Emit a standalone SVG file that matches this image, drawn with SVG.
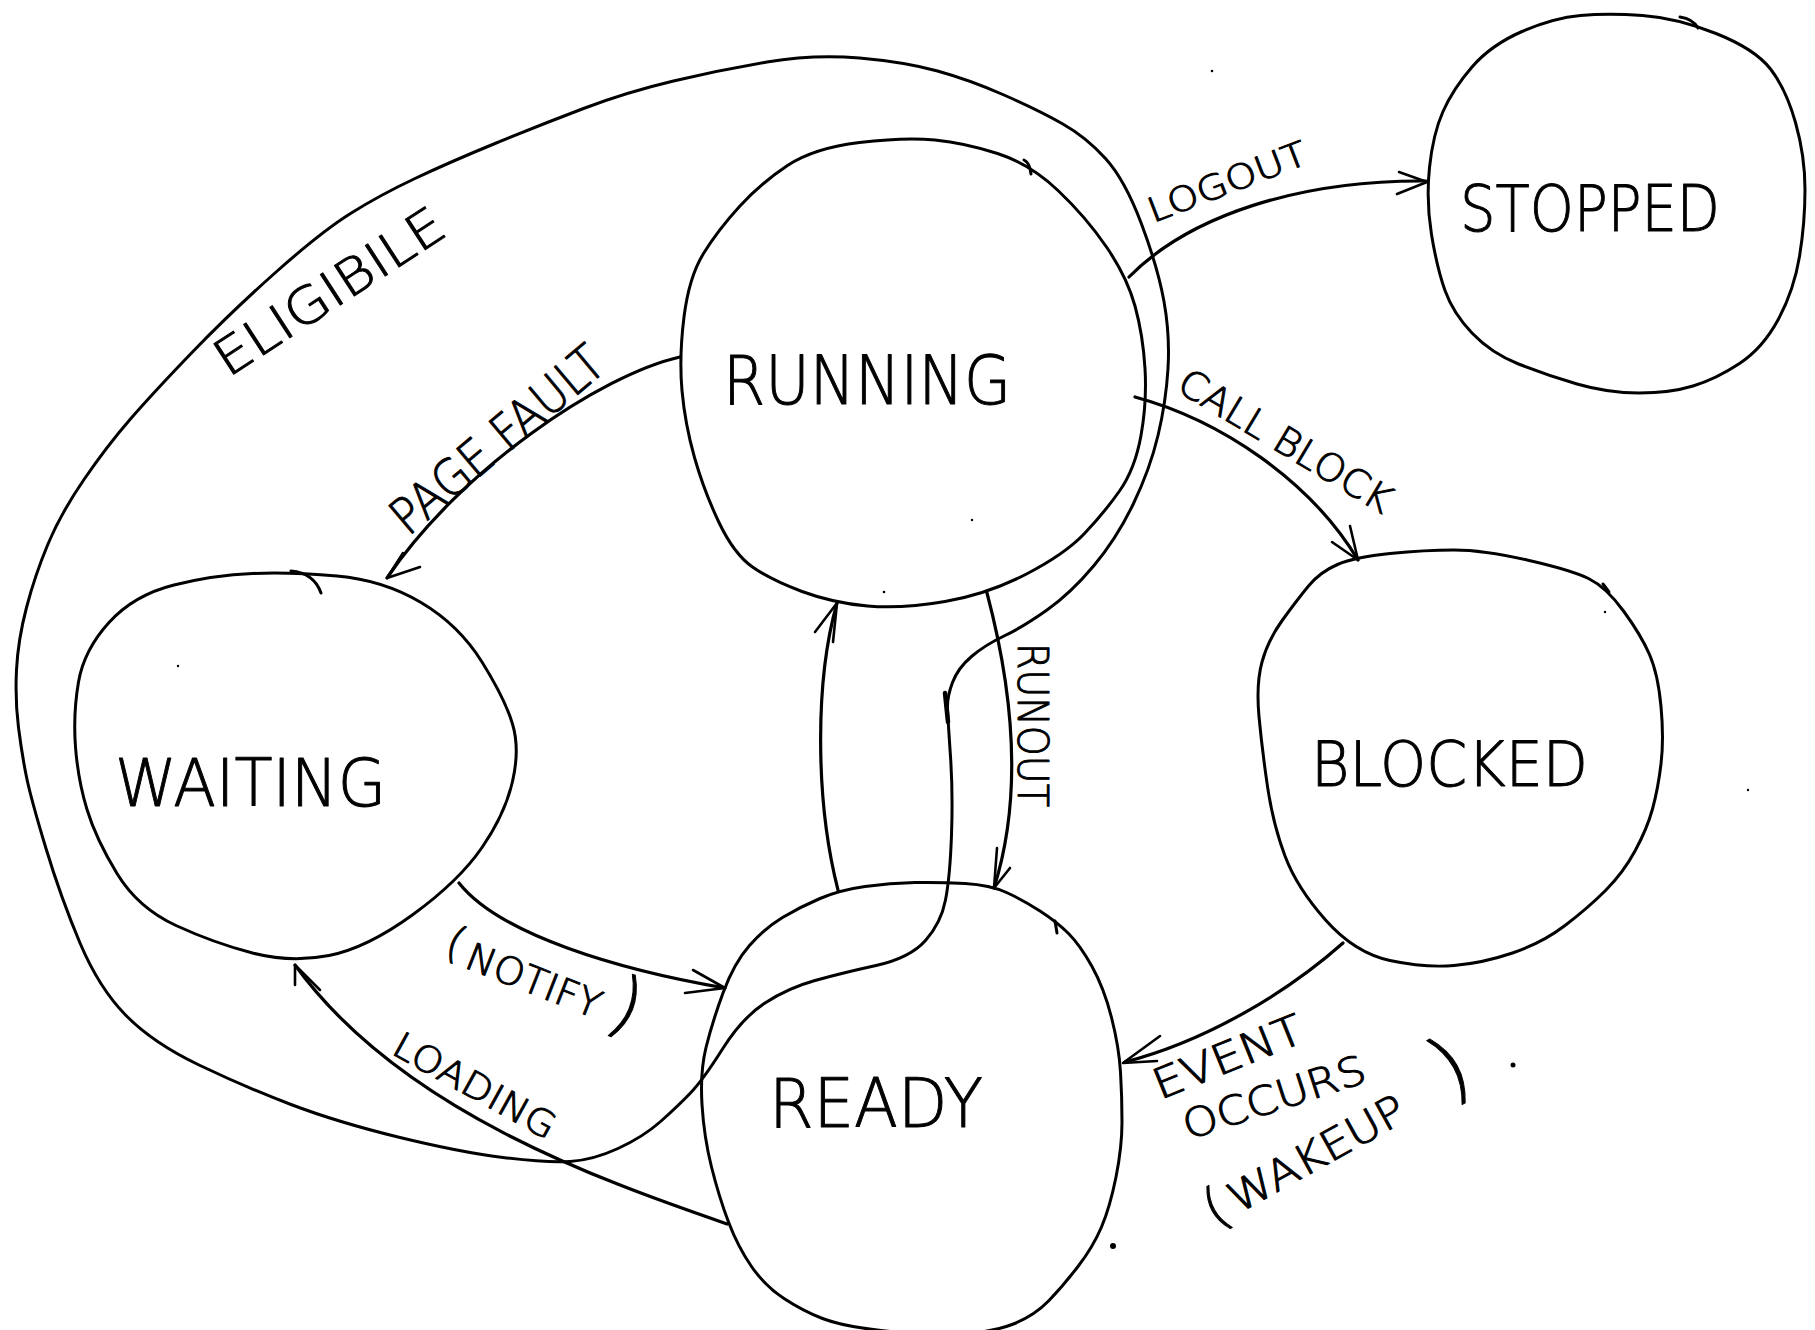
<svg xmlns="http://www.w3.org/2000/svg" width="1815" height="1330" viewBox="0 0 1815 1330">
<style>
.s{fill:none;stroke:#000;stroke-width:3;stroke-linecap:round;stroke-linejoin:round}
.c{fill:none;stroke:#000;stroke-width:3.2;stroke-linecap:round;stroke-linejoin:round}
.ah{fill:none;stroke:#000;stroke-width:2.6;stroke-linecap:round;stroke-linejoin:round}
.t{font-family:"DejaVu Sans","Liberation Sans",sans-serif;font-weight:200;fill:#000;stroke:#000;stroke-width:1;stroke-linejoin:round}
.dot{fill:#000}
</style>
<rect width="1815" height="1330" fill="#fff"/>

<g id="eligible">
<path class="s" d="M 947.5 708.5 Q 947 697 952.5 682.5 Q 958 668 971.5 656.5 Q 985 645 1004 636 Q 1023 627 1047 610 Q 1071 593 1094 565.5 Q 1117 538 1133.5 503.5 Q 1150 469 1158 435.5 Q 1166 402 1168 368.5 Q 1170 335 1164 301.5 Q 1158 268 1141.5 224 Q 1125 180 1105.5 158.5 Q 1086 137 1062 123.5 Q 1038 110 1004 95 Q 970 80 937.5 71 Q 905 62 859.5 58 Q 814 54 767 62 Q 720 70 673.5 81 Q 627 92 583.5 108.5 Q 540 125 495 143.5 Q 450 162 415 178.5 Q 380 195 350.5 213.5 Q 321 232 275.5 272.5 Q 230 313 191.5 353 Q 153 393 130 419.5 Q 107 446 84 479.5 Q 61 513 48 544 Q 35 575 26.5 607.5 Q 18 640 16.5 670 Q 15 700 18.5 727.5 Q 22 755 26.5 777 Q 31 799 46 848.5 Q 61 898 80 943 Q 99 988 126 1015.5 Q 153 1043 199 1065 Q 245 1087 291 1104.5 Q 337 1122 398 1137 Q 459 1152 503 1157.5 Q 547 1163 570 1161.5 Q 593 1160 618 1148.5 Q 643 1137 660 1122 Q 677 1107 690 1093.5 Q 703 1080 722.5 1049 Q 742 1018 765 1003 Q 788 988 815 980.5 Q 842 973 876 965.5 Q 910 958 925.5 940.5 Q 941 923 945.5 900 Q 950 877 951.5 835 Q 953 793 950.5 756.5 Q 948 720 947.5 708.5 Z"/>
<path d="M 945 693 L 948 722" fill="none" stroke="#000" stroke-width="4.5" stroke-linecap="round"/>
<text class="t" transform="translate(228,378) rotate(-33)" font-size="50" textLength="264" lengthAdjust="spacingAndGlyphs">ELIGIBILE</text>
</g>

<g id="running">
<path class="s" d="M 859.5 142.5 Q 905 137 935 140 Q 965 143 997.5 153.5 Q 1030 164 1058 190.5 Q 1086 217 1106.5 247 Q 1127 277 1135 306 Q 1143 335 1145 368.5 Q 1147 402 1141 435.5 Q 1135 469 1119.5 491 Q 1104 513 1084.5 533.5 Q 1065 554 1026.5 574 Q 988 594 945 601.5 Q 902 609 867.5 606 Q 833 603 802 591.5 Q 771 580 752.5 567 Q 734 554 719 522.5 Q 704 491 694.5 457.5 Q 685 424 682 390.5 Q 679 357 684 317 Q 689 277 703.5 253.5 Q 718 230 739.5 206.5 Q 761 183 787.5 165.5 Q 814 148 859.5 142.5 Z"/>
<path class="s" d="M 1024 160 Q 1030 163 1031 174"/>
<text class="t" x="723" y="404" font-size="68" textLength="288" lengthAdjust="spacingAndGlyphs">RUNNING</text>
</g>

<g id="stopped">
<path class="s" d="M 1580.5 15.5 Q 1608 13 1642.5 15.5 Q 1677 18 1716 33.5 Q 1755 49 1770.5 69 Q 1786 89 1795.5 122.5 Q 1805 156 1805 189.5 Q 1805 223 1799.5 256.5 Q 1794 290 1778.5 319 Q 1763 348 1739.5 363.5 Q 1716 379 1693 386 Q 1670 393 1639 393 Q 1608 393 1577 384 Q 1546 375 1518.5 364 Q 1491 353 1472 333 Q 1453 313 1445 290.5 Q 1437 268 1431.5 234.5 Q 1426 201 1429.5 167.5 Q 1433 134 1443 111.5 Q 1453 89 1472 67 Q 1491 45 1522 31.5 Q 1553 18 1580.5 15.5 Z"/>
<path class="s" d="M 1680 17 Q 1693 19 1698 28"/>
<text class="t" x="1460" y="231" font-size="64" textLength="260" lengthAdjust="spacingAndGlyphs">STOPPED</text>
</g>

<g id="waiting">
<path class="s" d="M 252.5 573.5 Q 291 572 337 576 Q 383 580 421 602.5 Q 459 625 482 662 Q 505 699 512.5 724 Q 520 749 512.5 781.5 Q 505 814 482 847.5 Q 459 881 413 914.5 Q 367 948 329 955.5 Q 291 963 252.5 953 Q 214 943 176 925.5 Q 138 908 117 873.5 Q 96 839 87 809.5 Q 78 780 75.5 747 Q 73 714 78.5 682 Q 84 650 109 622.5 Q 134 595 174 585 Q 214 575 252.5 573.5 Z"/>
<path class="s" d="M 291 571 Q 314 573 321 593"/>
<text class="t" x="115" y="806" font-size="66" textLength="271" lengthAdjust="spacingAndGlyphs">WAITING</text>
</g>

<g id="blocked">
<path class="s" d="M 1337.5 564.5 Q 1355 557 1390 553.5 Q 1425 550 1454 550 Q 1483 550 1527 560 Q 1571 570 1588.5 578.5 Q 1606 587 1623.5 611 Q 1641 635 1649.5 654.5 Q 1658 674 1661 706.5 Q 1664 739 1661 764 Q 1658 789 1652.5 809 Q 1647 829 1635 851 Q 1623 873 1605.5 890.5 Q 1588 908 1565 925.5 Q 1542 943 1512.5 953 Q 1483 963 1454 965.5 Q 1425 968 1390 960.5 Q 1355 953 1326 920.5 Q 1297 888 1285 856 Q 1273 824 1267.5 786.5 Q 1262 749 1259 716.5 Q 1256 684 1262 662 Q 1268 640 1282.5 620 Q 1297 600 1308.5 586 Q 1320 572 1337.5 564.5 Z"/>
<path class="s" d="M 1603 584 L 1609 592"/>
<text class="t" x="1311" y="786" font-size="62" textLength="277" lengthAdjust="spacingAndGlyphs">BLOCKED</text>
</g>

<g id="ready">
<path class="s" d="M 915 882.5 Q 940 882 965 883.5 Q 990 885 1006.5 892.5 Q 1023 900 1040 911 Q 1057 922 1068.5 933.5 Q 1080 945 1092 966.5 Q 1104 988 1111.5 1017.5 Q 1119 1047 1120.5 1072 Q 1122 1097 1122 1122 Q 1122 1147 1116 1177 Q 1110 1207 1101.5 1227 Q 1093 1247 1078 1266.5 Q 1063 1286 1048.5 1301 Q 1034 1316 1012 1324.5 Q 990 1333 955 1334 Q 920 1335 881 1330.5 Q 842 1326 822.5 1318.5 Q 803 1311 784 1298.5 Q 765 1286 751.5 1266.5 Q 738 1247 728.5 1222 Q 719 1197 711.5 1167 Q 704 1137 702 1104.5 Q 700 1072 706 1047.5 Q 712 1023 723 993 Q 734 963 749.5 945.5 Q 765 928 782.5 917.5 Q 800 907 820 898.5 Q 840 890 865 886.5 Q 890 883 915 882.5 Z"/>
<path class="s" d="M 1055 921 L 1057 933"/>
<text class="t" x="769" y="1127" font-size="68" textLength="214" lengthAdjust="spacingAndGlyphs">READY</text>
</g>

<g id="connectors">
<!-- LOGOUT: Running -> Stopped -->
<path class="c" d="M 1129 277 C 1190 215 1300 180 1426 181"/>
<polyline class="ah" points="1399,172 1427,182 1397,194"/>
<text class="t" transform="translate(1153,223) rotate(-21)" font-size="34" textLength="168" lengthAdjust="spacingAndGlyphs">LOGOUT</text>

<!-- CALL BLOCK: Running -> Blocked -->
<path class="c" d="M 1135 397 C 1220 420 1310 480 1358 560"/>
<polyline class="ah" points="1332,542 1358,560 1350,526"/>
<text class="t" transform="translate(1175,390) rotate(31)" font-size="38" textLength="242" lengthAdjust="spacingAndGlyphs">CALL BLOCK</text>

<!-- PAGE FAULT: Running -> Waiting -->
<path class="c" d="M 680 357 C 600 375 460 470 387 578"/>
<polyline class="ah" points="403,553 387,578 420,567"/>
<text class="t" transform="translate(408,537) rotate(-40)" font-size="50" textLength="262" lengthAdjust="spacingAndGlyphs">PAGE FAULT</text>

<!-- RUNOUT: Running -> Ready -->
<path class="c" d="M 987 593 C 1010 680 1025 790 994 888"/>
<polyline class="ah" points="997,848 994,888 1010,868"/>
<text class="t" transform="translate(1018,643) rotate(90)" font-size="42" textLength="164" lengthAdjust="spacingAndGlyphs">RUNOUT</text>

<!-- Ready -> Running -->
<path class="c" d="M 838 890 C 815 800 815 680 837 603"/>
<polyline class="ah" points="815,632 837,603 833,642"/>

<!-- NOTIFY: Waiting -> Ready -->
<path class="c" d="M 459 883 C 500 935 620 970 725 988"/>
<polyline class="ah" points="693,970 725,988 685,993"/>
<text class="t" transform="translate(463,967) rotate(21.4)"><tspan x="-24" y="-5" font-size="44">(</tspan><tspan x="0" y="0" font-size="38" textLength="142" lengthAdjust="spacingAndGlyphs">NOTIFY</tspan><tspan x="152" y="1" font-size="74">)</tspan></text>

<!-- LOADING: Ready -> Waiting -->
<path class="c" d="M 727 1224 C 600 1180 400 1110 295 965"/>
<polyline class="ah" points="295,985 295,965 320,990"/>
<text class="t" transform="translate(390,1053) rotate(29)" font-size="36" textLength="180" lengthAdjust="spacingAndGlyphs">LOADING</text>

<!-- EVENT OCCURS (WAKEUP): Blocked -> Ready -->
<path class="c" d="M 1343 943 C 1290 990 1210 1040 1125 1062"/>
<polyline class="ah" points="1160,1036 1123,1063 1157,1061"/>
<text class="t" transform="translate(1160,1100) rotate(-22)" font-size="42" textLength="158" lengthAdjust="spacingAndGlyphs">EVENT</text>
<text class="t" transform="translate(1188,1140) rotate(-18)" font-size="40" textLength="190" lengthAdjust="spacingAndGlyphs">OCCURS</text>
<text class="t" transform="translate(1238,1214) rotate(-29)"><tspan x="-27" y="2" font-size="54">(</tspan><tspan x="0" y="0" font-size="42" textLength="196" lengthAdjust="spacingAndGlyphs">WAKEUP</tspan><tspan x="240" y="2" font-size="82">)</tspan></text>
</g>

<g id="specks">
<circle class="dot" cx="1113" cy="1246" r="3"/>
<circle class="dot" cx="1513" cy="1065" r="2.5"/>
<circle class="dot" cx="1212" cy="71" r="1.3"/>
<circle class="dot" cx="884" cy="592" r="1.3"/>
<circle class="dot" cx="972" cy="520" r="1.2"/>
<circle class="dot" cx="1605" cy="612" r="1.2"/>
<circle class="dot" cx="178" cy="666" r="1.2"/>
<circle class="dot" cx="1748" cy="790" r="1.2"/>
</g>
</svg>
